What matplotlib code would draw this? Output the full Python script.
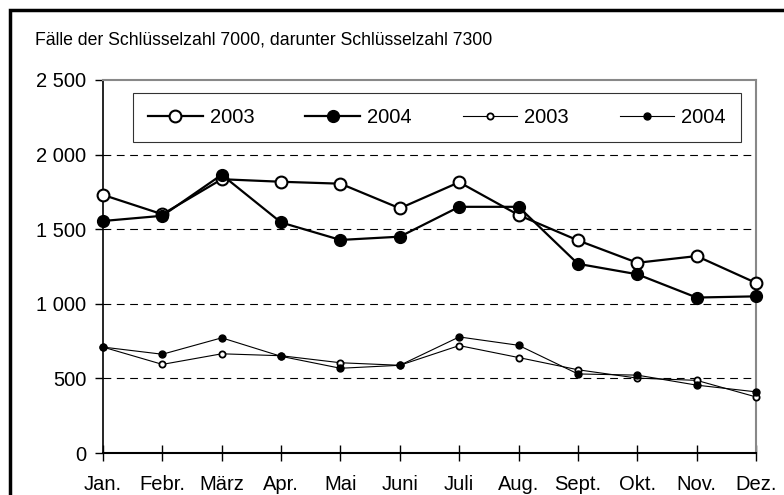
import matplotlib.pyplot as plt
import matplotlib.patches as patches

months = ["Jan.", "Febr.", "März", "Apr.", "Mai", "Juni", "Juli", "Aug.", "Sept.", "Okt.", "Nov.", "Dez."]

# Schlüsselzahl 7000
total_2003 = [1730, 1600, 1835, 1818, 1805, 1640, 1815, 1595, 1425, 1275, 1320, 1140]
total_2004 = [1555, 1590, 1865, 1545, 1428, 1450, 1650, 1650, 1268, 1198, 1042, 1050]

# darunter Schlüsselzahl 7300
sub_2003 = [710, 594, 665, 652, 605, 588, 720, 640, 558, 502, 487, 376]
sub_2004 = [710, 662, 772, 648, 568, 588, 778, 722, 530, 522, 455, 410]

yticks = [0, 500, 1000, 1500, 2000, 2500]
ytick_labels = ["0", "500", "1 000", "1 500", "2 000", "2 500"]

plt.rcParams["font.family"] = ["Liberation Sans", "DejaVu Sans"]


def main():
    fig = plt.figure(figsize=(7.84, 4.95), dpi=100)
    ax = fig.add_axes([0.1314, 0.0848, 0.8329, 0.7536])

    x = list(range(len(months)))

    ax.plot(x, total_2003, color="black", linewidth=1.6, marker="o", markersize=8.5,
            markerfacecolor="white", markeredgecolor="black", markeredgewidth=1.5, label="2003",
            zorder=3, clip_on=False)
    ax.plot(x, total_2004, color="black", linewidth=1.6, marker="o", markersize=8.5,
            markerfacecolor="black", markeredgecolor="black", label="2004", zorder=3, clip_on=False)
    ax.plot(x, sub_2003, color="black", linewidth=0.8, marker="o", markersize=4.5,
            markerfacecolor="white", markeredgecolor="black", markeredgewidth=1.3, label="2003",
            zorder=3, clip_on=False)
    ax.plot(x, sub_2004, color="black", linewidth=0.8, marker="o", markersize=5,
            markerfacecolor="black", markeredgecolor="black", label="2004", zorder=3, clip_on=False)

    ax.set_xlim(0, 11)
    ax.set_ylim(0, 2500)
    ax.set_xticks(x)
    ax.set_xticklabels(months, fontsize=14.5)
    ax.set_yticks(yticks)
    ax.set_yticklabels(ytick_labels, fontsize=14.5)
    ax.tick_params(axis="x", direction="inout", length=11, width=1, pad=10)
    ax.tick_params(axis="y", direction="out", length=6, width=1, pad=6)

    for v in yticks[1:-1]:
        ax.axhline(v, color="black", linewidth=0.8, linestyle=(0, (7, 5)), zorder=1)

    ax.spines["top"].set_color("#888888")
    ax.spines["right"].set_color("#888888")
    ax.spines["top"].set_linewidth(1.5)
    ax.spines["right"].set_linewidth(1.5)
    ax.spines["left"].set_linewidth(1.2)
    ax.spines["bottom"].set_linewidth(1.5)

    leg = ax.legend(loc="upper left", bbox_to_anchor=(0.046, 0.826, 0.931, 0.139), mode="expand",
                    ncol=4, fontsize=14.5, frameon=True, fancybox=False, handlelength=2.7,
                    borderpad=0.75, handletextpad=0.35, borderaxespad=0)
    leg.get_frame().set_edgecolor("black")
    leg.get_frame().set_linewidth(0.8)

    fig.text(35 / 784, 1 - 40 / 495, "Fälle der Schlüsselzahl 7000, darunter Schlüsselzahl 7300",
             fontsize=12.7, va="center", ha="left")

    fig.patches.append(patches.Rectangle((10 / 784, -0.05), 1.0, 1 - 10 / 495 + 0.05,
                                         transform=fig.transFigure, fill=False,
                                         edgecolor="black", linewidth=2.5))

    fig.savefig("out.png", dpi=100)
    plt.close()


if __name__ == "__main__":
    main()
